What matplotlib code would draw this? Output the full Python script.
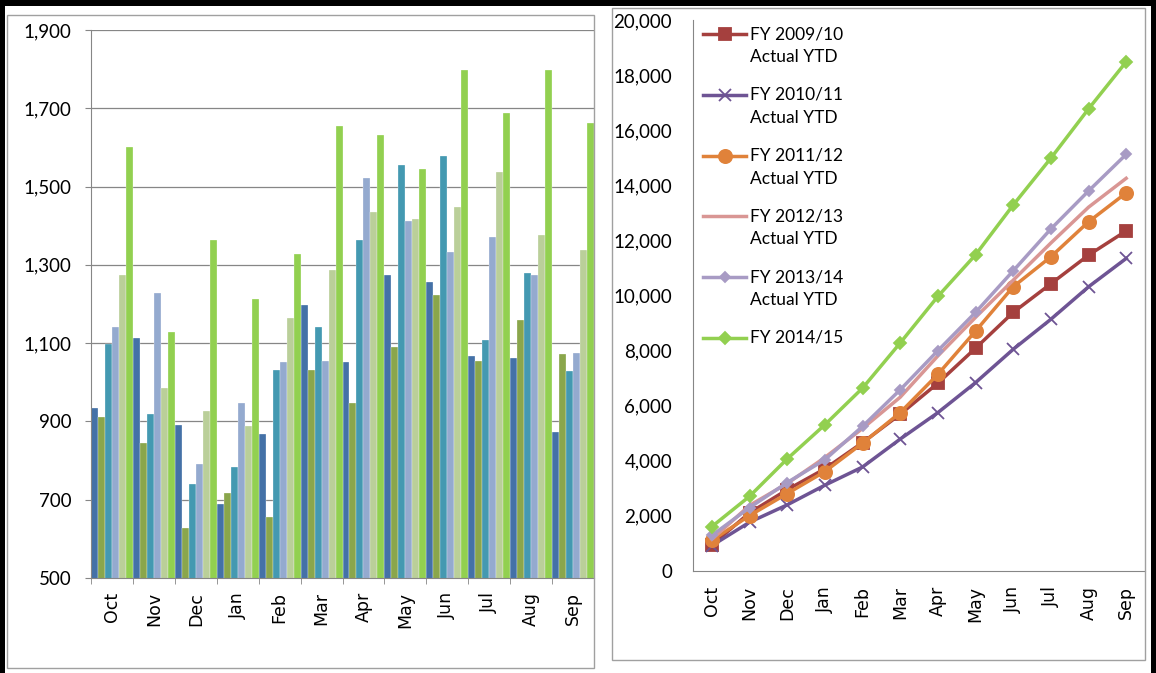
import matplotlib
matplotlib.use('Agg')
import matplotlib.pyplot as plt
import numpy as np
from matplotlib.patches import Rectangle
from matplotlib.ticker import FuncFormatter

plt.rcParams['font.family'] = ['Lato', 'DejaVu Sans']

months = ['Oct', 'Nov', 'Dec', 'Jan', 'Feb', 'Mar', 'Apr', 'May', 'Jun', 'Jul', 'Aug', 'Sep']

# monthly values (left chart)
m_0910 = [935, 1113, 892, 690, 868, 1198, 1051, 1275, 1256, 1066, 1063, 873]
m_1011 = [912, 845, 628, 717, 655, 1031, 946, 1089, 1224, 1054, 1159, 1071]
m_1112 = [1099, 919, 741, 784, 1031, 1140, 1364, 1555, 1578, 1109, 1280, 1028]
m_1213 = [1140, 1229, 791, 946, 1051, 1054, 1523, 1411, 1334, 1372, 1275, 1075]
m_1314 = [1275, 985, 927, 888, 1163, 1287, 1434, 1418, 1449, 1538, 1376, 1337]
m_1415 = [1600, 1128, 1364, 1213, 1329, 1654, 1631, 1546, 1798, 1689, 1798, 1662]

# year to date values (right chart)
ytd_0910 = [935, 2100, 2940, 3700, 4650, 5680, 6810, 8080, 9380, 10420, 11460, 12340]
ytd_1011 = [910, 1760, 2390, 3105, 3765, 4780, 5740, 6830, 8040, 9130, 10310, 11340]
ytd_1112 = [1100, 2000, 2800, 3600, 4630, 5740, 7130, 8700, 10310, 11400, 12670, 13720]
ytd_1213 = [1140, 2370, 3165, 4110, 5165, 6300, 7800, 9200, 10550, 11900, 13200, 14250]
ytd_1314 = [1280, 2290, 3200, 4030, 5240, 6570, 7990, 9380, 10890, 12410, 13790, 15120]
ytd_1415 = [1600, 2700, 4060, 5300, 6630, 8270, 9960, 11470, 13280, 14980, 16770, 18480]

line_labels = ['FY 2009/10\nActual YTD', 'FY 2010/11\nActual YTD', 'FY 2011/12\nActual YTD',
               'FY 2012/13\nActual YTD', 'FY 2013/14\nActual YTD', 'FY 2014/15']

bar_colors = ['#4471A7', '#8AA64B', '#4499B1', '#94AACF', '#BACF99', '#92D050']
line_colors = ['#A5403E', '#6E5494', '#E0823A', '#D99694', '#A89BC4', '#92D050']
markers = ['s', 'x', 'o', None, 'D', 'D']
msizes = [9, 9, 9.5, 0, 5.5, 6]

W, H = 1156, 673
fig = plt.figure(figsize=(11.56, 6.73), dpi=100)


def fx(px):
    return px / W


def fy(py):
    return 1 - py / H


grey = '#868686'
x = np.arange(len(months))
xfont = dict(fontsize=12.5, family='DejaVu Sans', rotation=90)

# left chart: monthly bars
ax1 = fig.add_axes([fx(91), fy(578), fx(594) - fx(91), fy(30) - fy(578)])
for i, (vals, c) in enumerate(zip([m_0910, m_1011, m_1112, m_1213, m_1314, m_1415], bar_colors)):
    ax1.bar(x + (i - 2.5) / 6, vals, width=1 / 6, color=c, edgecolor='white', linewidth=0.2)
ax1.set_xlim(-0.5, 11.5)
ax1.set_ylim(500, 1900)
ax1.set_yticks(range(500, 1901, 200))
ax1.yaxis.set_major_formatter(FuncFormatter(lambda v, p: f'{v:,.0f}'))
ax1.grid(axis='y', color=grey, lw=0.9)
ax1.set_axisbelow(True)
ax1.set_xticks(x)
ax1.set_xticklabels(months, **xfont)
ax1.set_xticks(np.arange(-0.5, 12, 1), minor=True)
ax1.tick_params(axis='x', which='major', length=0, pad=10)
ax1.tick_params(axis='x', which='minor', length=4, color=grey)
ax1.tick_params(axis='y', length=4, color=grey, pad=10, labelsize=13.5)
for s in ['top', 'right']:
    ax1.spines[s].set_visible(False)
for s in ['left', 'bottom']:
    ax1.spines[s].set_color(grey)

# right chart: year to date lines
ax2 = fig.add_axes([fx(693), fy(570.7), fx(1145) - fx(693), fy(20) - fy(570.7)])
series = [ytd_0910, ytd_1011, ytd_1112, ytd_1213, ytd_1314, ytd_1415]
for vals, c, m, ms in zip(series, line_colors, markers, msizes):
    ax2.plot(x, vals, color=c, lw=2.5, marker=m, markersize=ms, mew=1.3, mec=c, mfc=c)
ax2.set_xlim(-0.5, 11.5)
ax2.set_ylim(0, 20000)
ax2.set_yticks(range(0, 20001, 2000))
ax2.yaxis.set_major_formatter(FuncFormatter(lambda v, p: f'{v:,.0f}'))
ax2.set_xticks(x)
ax2.set_xticklabels(months, **xfont)
ax2.tick_params(axis='x', length=0, pad=11)
ax2.tick_params(axis='y', length=0, pad=15, labelsize=13.5)
for s in ['top', 'right']:
    ax2.spines[s].set_visible(False)
for s in ['left', 'bottom']:
    ax2.spines[s].set_color(grey)

# legend drawn by hand so the key sits on the first text line
x0, x1, xt = 703, 746, 750
for i, (lab, c, m, ms) in enumerate(zip(line_labels, line_colors, markers, msizes)):
    yp = 34.3 + i * 60.7
    ax2.plot([fx(x0), fx(x1)], [fy(yp), fy(yp)], transform=fig.transFigure, color=c,
             lw=2.5, clip_on=False)
    if m:
        ax2.plot([fx((x0 + x1) / 2)], [fy(yp)], transform=fig.transFigure, color=c,
                 marker=m, markersize=ms, mew=1.3, clip_on=False)
    for j, line in enumerate(lab.split('\n')):
        fig.text(fx(xt), fy(yp + j * 23), line, fontsize=12.5, va='center', ha='left')

# chart boxes and outer border
fig.add_artist(Rectangle((fx(7), fy(668)), fx(594) - fx(7), fy(15) - fy(668),
                         transform=fig.transFigure, fill=False, ec='#A0A0A0', lw=1))
fig.add_artist(Rectangle((fx(612), fy(660)), fx(1145) - fx(612), fy(8) - fy(660),
                         transform=fig.transFigure, fill=False, ec='#A0A0A0', lw=1))
fig.add_artist(Rectangle((0, fy(5.5)), 1, 5.5 / H, transform=fig.transFigure,
                         color='black', lw=0))
fig.add_artist(Rectangle((0, 0), fx(5), 1, transform=fig.transFigure, color='black', lw=0))
fig.add_artist(Rectangle((fx(1151), 0), fx(5), 1, transform=fig.transFigure,
                         color='black', lw=0))

fig.savefig('out.png', dpi=100)
